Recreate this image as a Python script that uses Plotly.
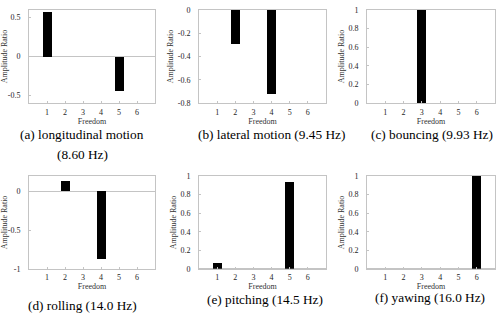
import plotly.graph_objects as go

# degrees of freedom on the x axis
freedom = [1, 2, 3, 4, 5, 6]

# amplitude ratio of each mode shape
ratio_a = [0.57, 0, 0, 0, -0.44, 0]
ratio_b = [0, -0.29, 0, -0.72, 0, 0]
ratio_c = [0, 0, 1.0, 0, 0, 0]
ratio_d = [0, 0.13, 0, -0.87, 0, 0]
ratio_e = [0.06, 0, 0, 0, 0.94, 0]
ratio_f = [0, 0, 0, 0, 0, 1.0]

captions = [
    "(a) longitudinal motion<br>(8.60 Hz)",
    "(b) lateral motion (9.45 Hz)",
    "(c) bouncing (9.93 Hz)",
    "(d) rolling (14.0 Hz)",
    "(e) pitching (14.5 Hz)",
    "(f) yawing (16.0 Hz)",
]

yticks_a = [-0.5, 0, 0.5]
yticks_b = [-0.8, -0.6, -0.4, -0.2, 0]
yticks_c = [0, 0.2, 0.4, 0.6, 0.8, 1]
yticks_d = [-1, -0.5, 0]

W, H = 500, 320
FONT = "Liberation Serif, Times New Roman, serif"
BOX = "#c4c4c4"

panels = [
    # values, y range, y ticks, box px (x0, x1, top, bottom), caption px (x, y)
    (ratio_a, [-0.6, 0.6], yticks_a, (29, 155, 6, 102), (82, 134)),
    (ratio_b, [-0.8, 0], yticks_b, (199, 326, 6, 102), (271, 134)),
    (ratio_c, [0, 1], yticks_c, (367, 495, 6, 102), (432, 134)),
    (ratio_d, [-1, 0.2], yticks_d, (29, 155, 177, 272.5), (82, 310)),
    (ratio_e, [0, 1], yticks_c, (199, 326, 177, 272.5), (265, 304)),
    (ratio_f, [0, 1], yticks_c, (367, 495, 177, 272.5), (430, 302)),
]

fig = go.Figure()
annotations = []
for i, (vals, yr, yt, box, cap) in enumerate(panels):
    n = "" if i == 0 else str(i + 1)
    fig.add_trace(go.Bar(
        x=freedom, y=vals, width=0.5,
        marker=dict(color="black", line=dict(width=0)),
        xaxis="x" + n, yaxis="y" + n, showlegend=False,
    ))
    x0, x1, top, bot = box
    common = dict(
        showline=True, mirror=True, linecolor=BOX, linewidth=1,
        ticks="inside", ticklen=2, tickcolor=BOX,
        showgrid=False,
        tickfont=dict(family=FONT, size=8, color="#262626"),
    )
    fig.layout["xaxis" + n] = dict(
        domain=[x0 / W, x1 / W], anchor="y" + n, range=[0, 7],
        tickvals=freedom, zeroline=False, ticklabelstandoff=1,
        title=dict(text="Freedom", standoff=0,
                   font=dict(family=FONT, size=8, color="#333")),
        **common,
    )
    fig.layout["yaxis" + n] = dict(
        domain=[1 - bot / H, 1 - top / H], anchor="x" + n, range=yr,
        tickvals=yt, ticktext=["%g" % v for v in yt],
        zeroline=True, zerolinecolor=BOX, zerolinewidth=1,
        ticklabelstandoff=6,
        title=dict(text="Amplitude Ratio", standoff=2,
                   font=dict(family=FONT, size=8, color="#333")),
        **common,
    )
    # one annotation per caption line, 21 px apart
    for k, line in enumerate(captions[i].split("<br>")):
        annotations.append(dict(
            text=line, x=cap[0] / W, y=1 - (cap[1] + 21 * k) / H,
            xref="paper", yref="paper", showarrow=False,
            xanchor="center", yanchor="middle",
            font=dict(family=FONT, size=13.3, color="black"),
        ))

fig.update_layout(
    width=W, height=H,
    margin=dict(l=0, r=0, t=0, b=0),
    paper_bgcolor="white", plot_bgcolor="white",
    bargap=0, annotations=annotations,
)

# drop the page's default body margin so the figure sits at the corner
fig.write_html("out.html", config={"displayModeBar": False},
               post_script="document.body.style.margin='0';")
